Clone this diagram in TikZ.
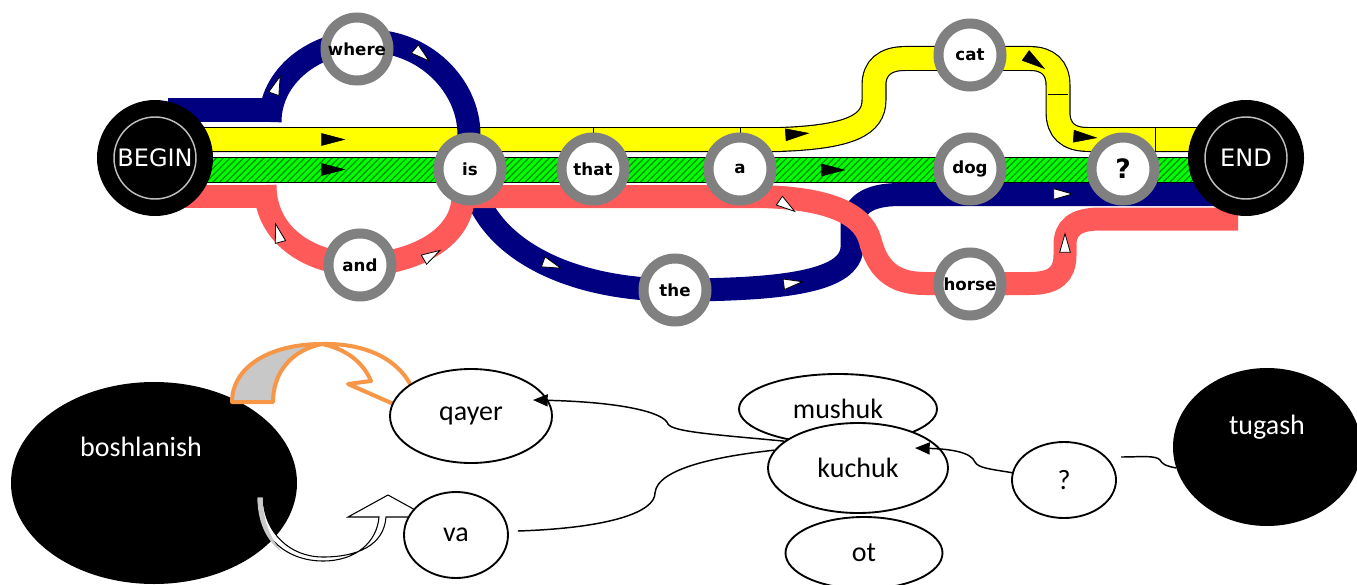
\documentclass[tikz,border=0pt]{standalone}
\usepackage{fontspec}
\setmainfont{Carlito}
\newfontfamily\djv{DejaVu Sans}
\usetikzlibrary{shapes.geometric,patterns.meta,arrows.meta,calc}
\pgfdeclarelayer{bg}
\pgfsetlayers{bg,main}
\definecolor{navyc}{RGB}{0,0,128}
\definecolor{redc}{RGB}{255,90,90}
\definecolor{yelc}{RGB}{255,255,0}
\definecolor{grnc}{RGB}{0,255,0}
\definecolor{hatchc}{RGB}{0,135,0}
\definecolor{ringc}{RGB}{128,128,128}
\definecolor{orngc}{RGB}{247,150,70}
\definecolor{crescc}{RGB}{200,200,200}
\newcommand\wtri[3]{\path[draw=black,fill=white,line width=0.6pt,shift={(#1,#2)},rotate=#3] (-7pt,-4pt) -- (7pt,0pt) -- (-7pt,4pt) -- cycle;}
\newcommand\btri[3]{\path[draw=black,fill=black,line width=0.4pt,shift={(#1,#2)},rotate=#3] (-8.5pt,-4.5pt) -- (8.5pt,0pt) -- (-8.5pt,4.5pt) -- cycle;}
\begin{document}
\begin{tikzpicture}[x=0.75pt,y=-0.75pt,
  ring/.style={circle,draw=ringc,line width=7.5pt,fill=white,minimum size=47.25pt,inner sep=0pt,font=\djv\bfseries\fontsize{12.5}{14}\selectfont},
  term/.style={circle,fill=black,minimum size=87pt,inner sep=0pt,text=white,font=\djv\fontsize{18}{20}\selectfont},
  band/.style={line width=17.25pt},
  wel/.style={ellipse,draw=black,line width=1.4pt,fill=white,inner sep=0pt,font=\fontsize{21}{24}\selectfont},
  blk/.style={ellipse,fill=black,inner sep=0pt},
  wtxt/.style={text=white,inner sep=0pt,font=\fontsize{21}{24}\selectfont},
  conn/.style={draw=black,line width=1.1pt},
  tip/.style={-{Triangle[length=11pt,width=9pt]}}
]
\useasboundingbox (0,0) rectangle (1357,585);

% ---------------- top: stations ----------------
\node[term] (BEGIN) at (155,158) {BEGIN};
\node[term] (END) at (1246,158) {END};
\draw[white!75!black,line width=1.1pt] (BEGIN.center) circle[radius=30.75pt];
\draw[white!75!black,line width=1.1pt] (END.center) circle[radius=30.75pt];
\node[ring] (where) at (357,49) {where};
\node[ring] (and) at (360,265) {and};
\node[ring] (is) at (470,169) {is};
\node[ring] (that) at (593,169) {that};
\node[ring] (a) at (740,169) {a};
\node[ring] (the) at (675,290) {the};
\node[ring] (cat) at (970,55) {cat};
\node[ring] (dog) at (970,169) {dog};
\node[ring,font=\djv\bfseries\fontsize{20}{22}\selectfont] (qm) at (1123,169) {?};
\node[ring] (horse) at (970,284) {horse};

\begin{pgfonlayer}{bg}
% yellow line
\path[draw=black,line width=18.75pt,postaction={draw=yelc,line width=17pt}]
  (BEGIN.center) ++(0,-18.5) -- (780,139.5) .. controls (850,137) and (874,125) .. (874,100)
  -- (874,85) .. controls (874,68) and (885,58.5) .. (905,58.5) -- (1030,58.5)
  .. controls (1048,58.5) and (1058,68) .. (1058,85) -- (1058,112)
  .. controls (1058,130) and (1068,139.5) .. (1088,139.5) -- (1246,139.5);
\draw[line width=0.75pt] (458,127) -- (458,152);
\draw[line width=0.75pt] (1155,127) -- (1155,152);
\draw[line width=0.75pt] (1048,95) -- (1068,95);
\draw[line width=0.75pt] (593,127) -- (593,133);
\draw[line width=0.75pt] (740,127) -- (740,133);
% green line
\fill[grnc] (155,157) rectangle (1246,182);
\fill[pattern={Lines[angle=45,distance=3.6pt,line width=0.9pt]},pattern color=hatchc] (155,157) rectangle (1246,182);
\draw[line width=0.75pt] (155,157) rectangle (1246,182);
% blue lower
\draw[navyc,band] (is.center) .. controls (478,245) and (565,290) .. (the.center)
  .. controls (790,290) and (850,280) .. (852,248) -- (852,228)
  .. controls (852,205) and (868,194.5) .. (900,194.5) -- (END.center |- 0,194.5);
% red
\fill[redc] (185,185) rectangle (276,208);
\draw[redc,band] (265,185) .. controls (265,235) and (308,263) .. (and.center)
  .. controls (420,263) and (463,235) .. (463,196.5) -- (is.center);
\draw[redc,band] (470,196.5) -- (760,196.5) .. controls (825,198) and (862,212) .. (870,240)
  .. controls (877,268) and (892,283.5) .. (925,283.5) -- (horse.center) -- (1030,283.5)
  .. controls (1055,283.5) and (1065,274) .. (1065,255) -- (1065,245)
  .. controls (1065,228) and (1075,219) .. (1100,219) -- (1238,219);
% blue upper loop
\fill[navyc] (168,98) rectangle (280,122);
\draw[navyc,band] (270,122) .. controls (270,76) and (314,41) .. (369,41)
  .. controls (424,41) and (469,85) .. (469,135) -- (is.center);
% direction marks
\wtri{277}{85}{70}
\wtri{422}{55}{-40}
\wtri{552}{265}{-20}
\wtri{793}{283}{8}
\wtri{1063}{194}{0}
\wtri{278}{233}{105}
\wtri{432}{255}{30}
\wtri{787}{206}{-35}
\wtri{1065}{243}{90}
\btri{333}{139.5}{0}
\btri{333}{169.5}{0}
\btri{797}{134}{4}
\btri{833}{170}{0}
\btri{1035}{62}{-35}
\btri{1085}{137}{-4}
\end{pgfonlayer}

% ---------------- bottom ----------------
\node[blk,minimum width=214.5pt,minimum height=151.5pt] (bosh) at (154,483) {};
\node[wtxt] (boshtxt) at (141,447) {boshlanish};

% curved arrow to va
\filldraw[fill=white,draw=black,line width=0.8pt] (257,497) .. controls (257,535) and (285,561) .. (323,561)
  .. controls (356,561) and (377,542) .. (379,517) -- (348,517) -- (388,495) -- (428,517) -- (386,517)
  .. controls (384,545) and (358,557) .. (323,557) .. controls (290,557) and (264,533) .. (263,497) -- cycle;
\fill[crescc] (257.5,497.5) .. controls (257.5,520) and (265,540) .. (282,552)
  .. controls (270,538) and (263,520) .. (262.5,497.5) -- cycle;

% curved arrow to qayer
\filldraw[fill=crescc,draw=orngc,line width=3pt,line join=round] (232,402) .. controls (232,368) and (268,344) .. (322,344)
  .. controls (292,350) and (273,372) .. (273,402) -- cycle;
\filldraw[fill=white,draw=orngc,line width=3pt,line join=round] (322,344) .. controls (370,343) and (402,362) .. (414,392)
  -- (430,420) -- (348,384) -- (371,381) .. controls (363,362) and (346,349) .. (322,344) -- cycle;

\node[wel,minimum width=121.5pt,minimum height=70.5pt] (qayer) at (471,416) {qayer};
\node[wel,minimum width=78pt,minimum height=64.5pt] (va) at (456,535) {va};
\node[wel,minimum width=148.5pt,minimum height=52.5pt] (mushuk) at (838,409) {mushuk};
\node[wel,minimum width=135pt,minimum height=67.5pt] (kuchuk) at (858,468) {kuchuk};
\node[wel,minimum width=117.75pt,minimum height=54pt] (ot) at (864,553) {ot};
\node[wel,minimum width=78pt,minimum height=57pt] (qm2) at (1064,480) {?};
\node[blk,minimum width=141pt,minimum height=118.5pt] (tugash) at (1267,447) {};
\node[wtxt] (tugtxt) at (1267,427) {tugash};
\coordinate (tfree) at (1121,457);

\draw[conn,tip] (kuchuk.160) .. controls (720,435) and (672,432) .. (668,424)
  .. controls (664,412) and (620,402) .. ($(qayer.center)+(62,-16)$);
\draw[conn] ($(va.east)+(9,-4)$) .. controls (610,528) and (655,512) .. (655,493)
  .. controls (657,468) and (720,456) .. (kuchuk.168);
\draw[conn,tip] (qm2.172) .. controls (990,469) and (978,468) .. (975,462)
  .. controls (971,452) and (950,449) .. ($(kuchuk.center)+(57,-20)$);
\draw[conn] (tugash.193) .. controls (1166,466) and (1162,464) .. (1160,460)
  .. controls (1156,455) and (1140,457) .. (tfree);
\end{tikzpicture}
\end{document}
